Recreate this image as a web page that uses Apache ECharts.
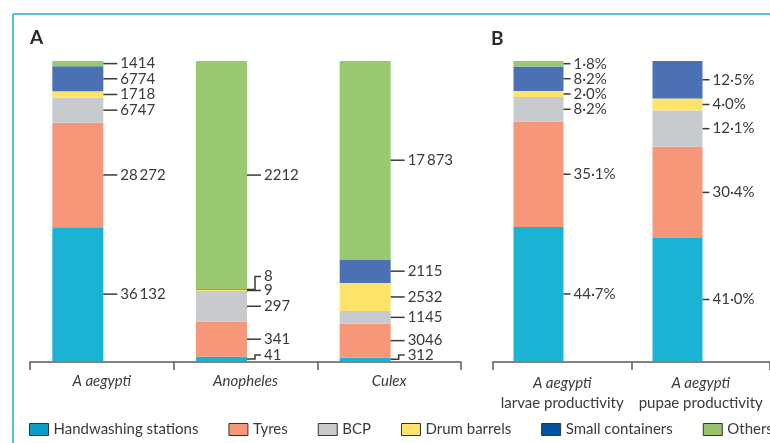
<!DOCTYPE html>
<html>
<head>
<meta charset="utf-8">
<script src="https://cdn.jsdelivr.net/npm/echarts@6/dist/echarts.min.js"></script>
<style>
html,body{margin:0;padding:0;background:#fff;}
#chart{width:770px;height:443px;}
</style>
</head>
<body>
<div id="chart"></div>
<script>
// ---------- DATA ----------
const seriesNames = ['Handwashing stations', 'Tyres', 'BCP', 'Drum barrels', 'Small containers', 'Others'];

// Panel A: counts per container type (categories: A aegypti, Anopheles, Culex)
const categoriesA = ['A aegypti', 'Anopheles', 'Culex'];
const aHandwashing = [36132, 41, 312];
const aTyres       = [28272, 341, 3046];
const aBCP         = [6747, 297, 1145];
const aDrum        = [1718, 9, 2532];
const aSmall       = [6774, 8, 2115];
const aOthers      = [1414, 2212, 17873];

// Panel B: productivity percentages
const categoriesB = ['larvae productivity', 'pupae productivity'];
const speciesB = 'A aegypti';
const bHandwashing = [44.7, 41.0];
const bTyres       = [35.1, 30.4];
const bBCP         = [8.2, 12.1];
const bDrum        = [2.0, 4.0];
const bSmall       = [8.2, 12.5];
const bOthers      = [1.8, 0];

// ---------- STYLE ----------
const FONT = 'Lato, "Open Sans", sans-serif';
const TXT = '#3a3a3a';
const barColors = ['#1bb3d3', '#f69779', '#c8cbce', '#fee36b', '#4b71b4', '#98c870'];
const legendColors = ['#0a9fc8', '#f69779', '#c8cbce', '#fee36b', '#0053a0', '#93c46b'];

const seriesA = [aHandwashing, aTyres, aBCP, aDrum, aSmall, aOthers];
const seriesB = [bHandwashing, bTyres, bBCP, bDrum, bSmall, bOthers];
const totalsA = categoriesA.map((_, i) => seriesA.reduce((s, arr) => s + arr[i], 0));
const sharesA = seriesA.map(arr => arr.map((v, i) => v / totalsA[i] * 100));

function fmtCount(v) {
  const s = String(v);
  if (v >= 10000) return s.slice(0, s.length - 3) + '\u2009' + s.slice(s.length - 3);
  return s;
}
function fmtPct(v) {
  return v.toFixed(1).replace('.', '\u00b7') + '%';
}

const BAR_W_A = 51, BAR_W_B = 50;

function makeLabelRenderer(shares, raw, fmt, barW, lineLen, textGap) {
  return function (params, api) {
    const ci = api.value(0);
    const baseY = api.coord([ci, 0])[1];
    let cum = 0;
    const items = [];
    for (let s = 0; s < shares.length; s++) {
      const v = shares[s][ci];
      if (raw[s][ci] > 0) {
        const p = api.coord([ci, cum + v / 2]);
        items.push({ x: p[0] + barW / 2, y: p[1], text: fmt(raw[s][ci]) });
      }
      cum += v;
    }
    // simple overlap avoidance, bottom to top
    let prev = null;
    items.forEach(it => {
      let ly = Math.min(it.y, baseY - 6);
      if (prev !== null) ly = Math.min(ly, prev - 14);
      it.ly = ly;
      prev = ly;
    });
    const children = [];
    items.forEach(it => {
      let pts;
      if (Math.abs(it.ly - it.y) > 1.5) {
        const mx = it.x + 8;
        pts = [[it.x, it.y], [mx, it.y], [mx, it.ly], [it.x + lineLen, it.ly]];
      } else {
        pts = [[it.x, it.ly], [it.x + lineLen, it.ly]];
      }
      children.push({
        type: 'polyline',
        shape: { points: pts },
        style: { stroke: '#3a3a3a', lineWidth: 1.5, fill: null }
      });
      children.push({
        type: 'text',
        style: {
          text: it.text, x: it.x + lineLen + textGap, y: it.ly,
          fill: TXT, fontSize: 15, fontFamily: FONT,
          align: 'left', verticalAlign: 'middle'
        }
      });
    });
    return { type: 'group', children: children };
  };
}

const barSeries = [];
seriesNames.forEach((name, s) => {
  barSeries.push({
    name: name, type: 'bar', stack: 'A',
    xAxisIndex: 1, yAxisIndex: 1, barWidth: BAR_W_A,
    itemStyle: { color: barColors[s] },
    data: sharesA[s], animation: false
  });
});
seriesNames.forEach((name, s) => {
  barSeries.push({
    name: name, type: 'bar', stack: 'B',
    xAxisIndex: 3, yAxisIndex: 3, barWidth: BAR_W_B,
    itemStyle: { color: barColors[s] },
    data: seriesB[s], animation: false
  });
});

const axisCommon = {
  axisLine: { show: true, lineStyle: { color: '#5a5a5a', width: 1.5 } },
  axisTick: { show: true, length: 8, lineStyle: { color: '#5a5a5a', width: 1.5 } },
  splitLine: { show: false }
};
const hiddenX = { show: false, axisLine: { show: false }, axisTick: { show: false }, axisLabel: { show: false } };
const yHidden = { type: 'value', min: 0, max: 100, show: false, splitLine: { show: false } };

const option = {
  animation: false,
  backgroundColor: '#fff',
  textStyle: { fontFamily: FONT },
  grid: [
    { left: 30, top: 61, width: 431, height: 301 },
    { left: 6, top: 61, width: 431, height: 300 },
    { left: 493, top: 61, width: 278, height: 301 },
    { left: 469, top: 61, width: 278, height: 300 }
  ],
  xAxis: [
    Object.assign({ type: 'category', gridIndex: 0, data: categoriesA,
      axisLabel: { interval: 0, fontStyle: 'italic', fontSize: 15, color: TXT, margin: 12, fontFamily: FONT } }, axisCommon),
    Object.assign({ type: 'category', gridIndex: 1, data: categoriesA }, hiddenX),
    Object.assign({ type: 'category', gridIndex: 2, data: categoriesB,
      axisLabel: {
        interval: 0, margin: 11, fontFamily: FONT, hideOverlap: false,
        formatter: v => '{i|' + speciesB + '}\n{n|' + v + '}',
        rich: {
          i: { fontStyle: 'italic', fontSize: 15, color: TXT, lineHeight: 20, fontFamily: FONT },
          n: { fontSize: 15, color: TXT, lineHeight: 20, fontFamily: FONT }
        }
      } }, axisCommon),
    Object.assign({ type: 'category', gridIndex: 3, data: categoriesB }, hiddenX)
  ],
  yAxis: [
    Object.assign({ gridIndex: 0 }, yHidden),
    Object.assign({ gridIndex: 1 }, yHidden),
    Object.assign({ gridIndex: 2 }, yHidden),
    Object.assign({ gridIndex: 3 }, yHidden)
  ],
  legend: {
    left: 29, top: 422, width: 900, padding: 0,
    itemWidth: 19, itemHeight: 12, itemGap: 30,
    icon: 'rect',
    selectedMode: false,
    textStyle: { fontSize: 15, color: TXT, fontFamily: FONT },
    data: seriesNames.map((n, i) => ({
      name: n,
      itemStyle: { color: legendColors[i], borderColor: '#333', borderWidth: 1 }
    }))
  },
  graphic: [
    { type: 'line', shape: { x1: 13, y1: 14, x2: 770, y2: 14 }, style: { stroke: '#1aaecd', lineWidth: 1.5 } },
    { type: 'line', shape: { x1: 13, y1: 14, x2: 13, y2: 443 }, style: { stroke: '#1aaecd', lineWidth: 1.5 } },
    { type: 'text', left: 30, top: 28, style: { text: 'A', fontSize: 19, fontWeight: 'bold', fill: '#2a2a2a', fontFamily: FONT } },
    { type: 'text', left: 491, top: 29, style: { text: 'B', fontSize: 19, fontWeight: 'bold', fill: '#2a2a2a', fontFamily: FONT } }
  ],
  series: barSeries.concat([
    {
      type: 'custom', xAxisIndex: 1, yAxisIndex: 1, clip: false, silent: true,
      renderItem: makeLabelRenderer(sharesA, seriesA, fmtCount, BAR_W_A, 14, 3),
      data: categoriesA.map((_, i) => [i, 0]), animation: false, z: 5
    },
    {
      type: 'custom', xAxisIndex: 3, yAxisIndex: 3, clip: false, silent: true,
      renderItem: makeLabelRenderer(seriesB, seriesB, fmtPct, BAR_W_B, 7, 3),
      data: categoriesB.map((_, i) => [i, 0]), animation: false, z: 5
    }
  ])
};

const chart = echarts.init(document.getElementById('chart'), null, { renderer: 'canvas' });
chart.setOption(option);
</script>
</body>
</html>
